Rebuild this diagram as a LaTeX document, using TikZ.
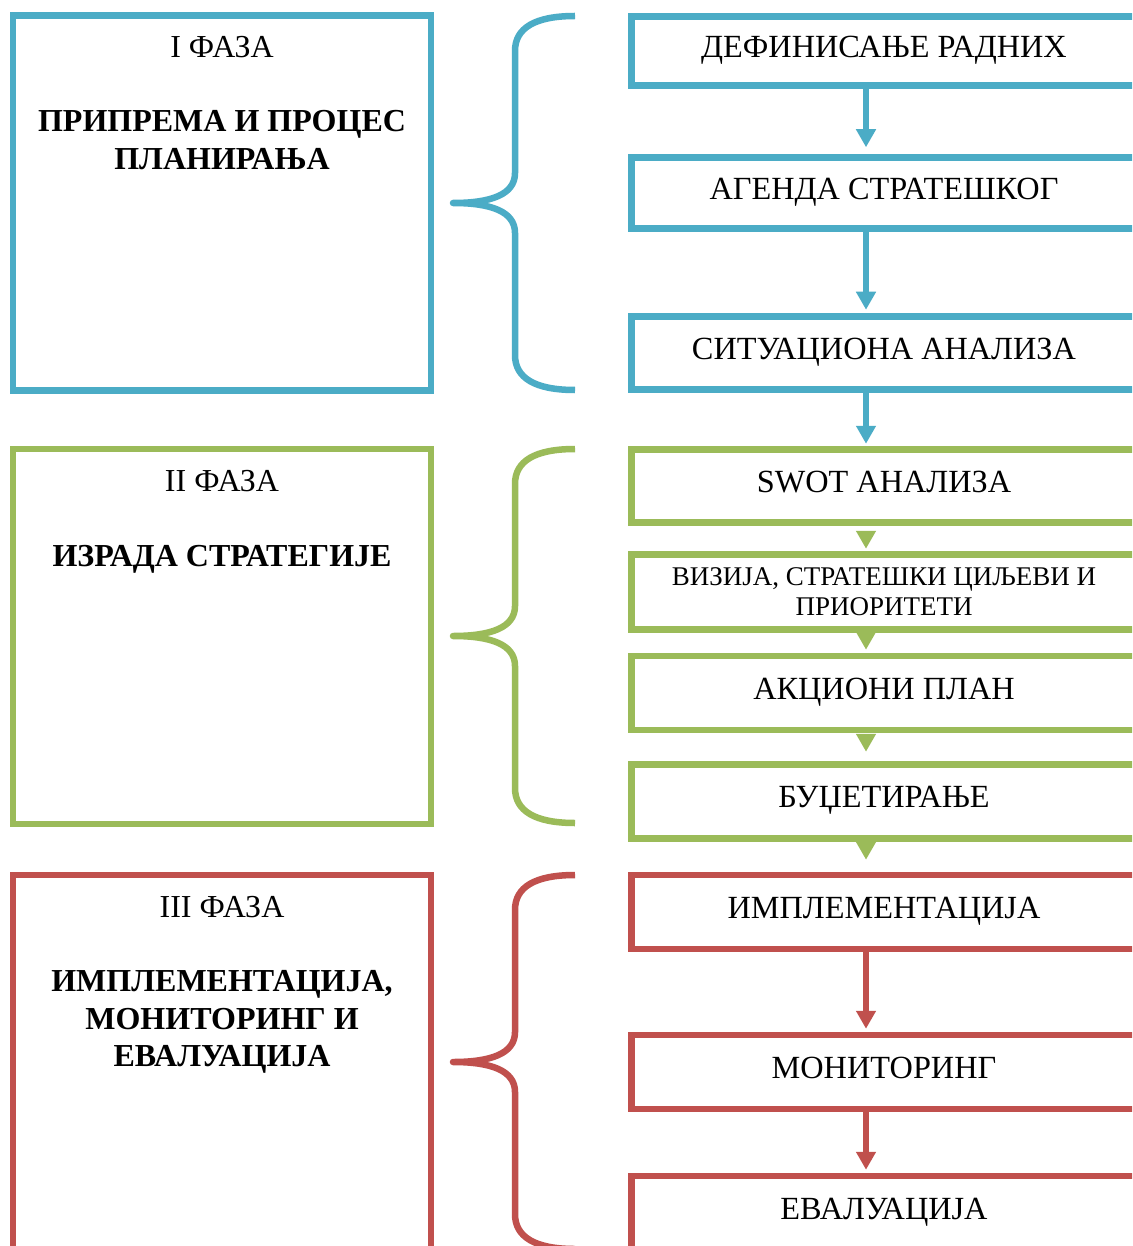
\documentclass[tikz,border=0pt]{standalone}
\usepackage{fontspec}
\setmainfont{Liberation Serif}
\usetikzlibrary{arrows.meta}
\definecolor{cblue}{HTML}{4BACC6}
\definecolor{cgreen}{HTML}{9BBB59}
\definecolor{cred}{HTML}{C0504D}
\begin{document}
\begin{tikzpicture}[x=1pt,y=-1pt,
  phasebox/.style={draw, line width=6.5pt, minimum width=418pt, minimum height=375pt, inner sep=0pt},
  phasetitle/.style={inner sep=0pt, font=\fontsize{32}{37}\selectfont},
  phasename/.style={inner sep=0pt, align=center, font=\fontsize{32}{37.5}\selectfont\bfseries},
  stepbase/.style={draw, line width=6.5pt, minimum width=505pt, inner sep=0pt, align=center},
  stepone/.style={stepbase, minimum height=#1, text height=22.4pt, text depth=9.6pt, font=\fontsize{32.3}{37}\selectfont},
  steptwo/.style={stepbase, minimum height=#1, font=\fontsize{27}{30}\selectfont},
  arr/.style={line width=6pt, -{Triangle[width=19pt,length=18pt]}},
  brace/.style={line width=6.5pt, line join=round, line cap=butt}
]
\useasboundingbox (0,0) rectangle (1132,1246);
\clip (0,0) rectangle (1132,1246);
\fill[white] (0,0) rectangle (1132,1246);

% left phase boxes
\node[phasebox, draw=cblue]  (p1) at (222,203) {};
\node[phasebox, draw=cgreen] (p2) at (222,636.5) {};
\node[phasebox, draw=cred]   (p3) at (222,1062.5) {};

\node[phasetitle] (t1) at (222,47) {I ФАЗА};
\node[phasename]  (n1) at (222,140) {ПРИПРЕМА И ПРОЦЕС\\ПЛАНИРАЊА};
\node[phasetitle] (t2) at (222,481) {II ФАЗА};
\node[phasename]  (n2) at (222,559) {ИЗРАДА СТРАТЕГИЈЕ};
\node[phasetitle] (t3) at (222,907) {III ФАЗА};
\node[phasename]  (n3) at (222,1022) {ИМПЛЕМЕНТАЦИЈА,\\МОНИТОРИНГ И\\ЕВАЛУАЦИЈА};

% braces
\draw[brace, cblue] (575,16) .. controls (535,16) and (515,28) .. (515,51) -- (515,173) .. controls (515,195) and (490,203) .. (453,203) .. controls (490,203) and (515,211) .. (515,233) -- (515,355) .. controls (515,378) and (535,390) .. (575,390);
\draw[brace, cgreen] (575,449) .. controls (535,449) and (515,461) .. (515,484) -- (515,606) .. controls (515,628) and (490,636) .. (453,636) .. controls (490,636) and (515,644) .. (515,666) -- (515,788) .. controls (515,811) and (535,823) .. (575,823);
\draw[brace, cred] (575,875) .. controls (535,875) and (515,887) .. (515,910) -- (515,1032) .. controls (515,1054) and (490,1062) .. (453,1062) .. controls (490,1062) and (515,1070) .. (515,1092) -- (515,1214) .. controls (515,1237) and (535,1249) .. (575,1249);

% right step boxes
\node[stepone=69pt, draw=cblue]  (r1) at (884,51)  {ДЕФИНИСАЊЕ РАДНИХ};
\node[stepone=71pt, draw=cblue]  (r2) at (884,193) {АГЕНДА СТРАТЕШКОГ};
\node[stepone=73pt, draw=cblue]  (r3) at (884,353) {СИТУАЦИОНА АНАЛИЗА};
\node[stepone=73pt, draw=cgreen] (r4) at (884,486) {SWOT АНАЛИЗА};
\node[steptwo=75pt, draw=cgreen] (r5) at (884,592) {ВИЗИЈА, СТРАТЕШКИ ЦИЉЕВИ И\\ПРИОРИТЕТИ};
\node[stepone=74pt, draw=cgreen] (r6) at (884,693) {АКЦИОНИ ПЛАН};
\node[stepone=74pt, draw=cgreen] (r7) at (884,801.5) {БУЏЕТИРАЊЕ};
\node[stepone=74pt, draw=cred]   (r8) at (884,912) {ИМПЛЕМЕНТАЦИЈА};
\node[stepone=74pt, draw=cred]   (r9) at (884,1072) {МОНИТОРИНГ};
\node[stepone=74pt, draw=cred]   (r10) at (884,1213) {ЕВАЛУАЦИЈА};

% arrows
\coordinate (ax) at (866,0);
\draw[arr, cblue, shorten >=7pt] (r1.south -| ax) -- (r2.north -| ax);
\draw[arr, cblue, shorten >=3.5pt] (r2.south -| ax) -- (r3.north -| ax);
\draw[arr, cblue, shorten >=2.5pt] ([yshift=3pt]r3.south -| ax) -- (r4.north -| ax);
\draw[arr, cgreen, shorten <=6.5pt, shorten >=2.5pt] (r4.south -| ax) -- (r5.north -| ax);
\draw[arr, cgreen, shorten <=3.5pt, shorten >=3pt] (r5.south -| ax) -- (r6.north -| ax);
\draw[arr, cgreen, shorten <=3pt, shorten >=9.5pt] (r6.south -| ax) -- (r7.north -| ax);
\draw[arr, cgreen, shorten <=4.3pt, shorten >=12pt] (r7.south -| ax) -- (r8.north -| ax);
\draw[arr, cred, shorten >=3pt] (r8.south -| ax) -- (r9.north -| ax);
\draw[arr, cred, shorten >=3pt] (r9.south -| ax) -- (r10.north -| ax);
\end{tikzpicture}
\end{document}
